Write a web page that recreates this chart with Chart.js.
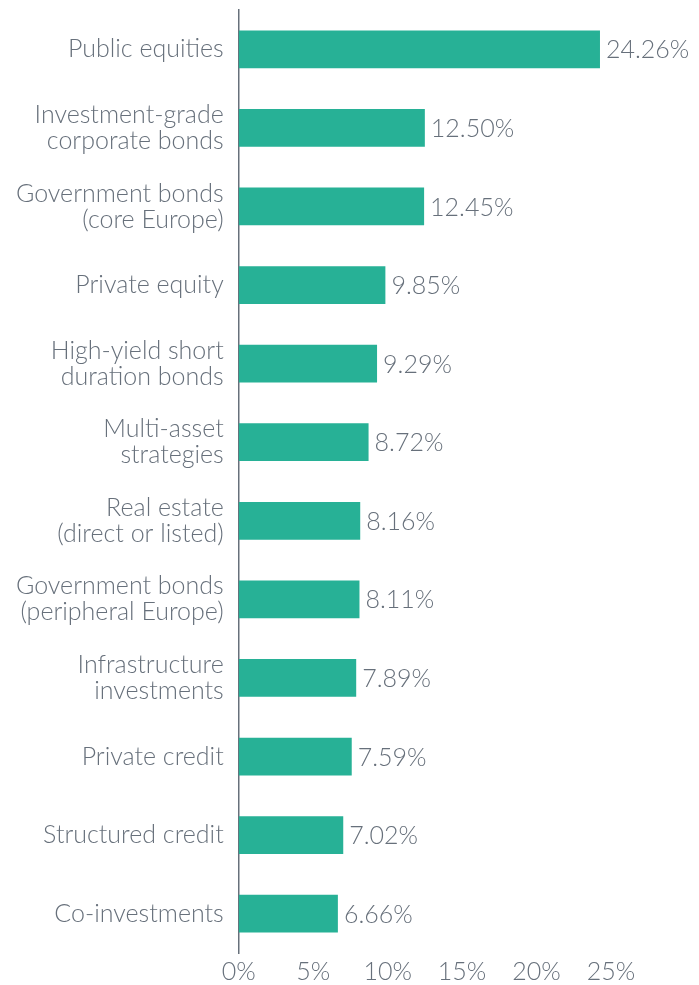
<!DOCTYPE html>
<html>
<head>
<meta charset="utf-8">
<script src="https://cdn.jsdelivr.net/npm/chart.js@4"></script>
<style>
  body { margin: 0; background: #fff; }
  #wrap { width: 699px; height: 985px; }
</style>
</head>
<body>
<div id="wrap"><canvas id="chart" width="699" height="985"></canvas></div>
<script>
const categories = [
  'Public equities',
  ['Investment-grade', 'corporate bonds'],
  ['Government bonds', '(core Europe)'],
  'Private equity',
  ['High-yield short', 'duration bonds'],
  ['Multi-asset', 'strategies'],
  ['Real estate', '(direct or listed)'],
  ['Government bonds', '(peripheral Europe)'],
  ['Infrastructure', 'investments'],
  'Private credit',
  'Structured credit',
  'Co-investments'
];
const shares = [24.26, 12.50, 12.45, 9.85, 9.29, 8.72, 8.16, 8.11, 7.89, 7.59, 7.02, 6.66];
const xTicks = [0, 5, 10, 15, 20, 25];

const textColor = '#67707b';
const barColor = '#27b196';
const fontFamily = 'Lato, "Open Sans", sans-serif';

// draws the value text just right of each bar
const valueLabels = {
  id: 'valueLabels',
  afterDatasetsDraw(chart) {
    const ctx = chart.ctx;
    const meta = chart.getDatasetMeta(0);
    ctx.save();
    ctx.font = '300 25px ' + fontFamily;
    ctx.fillStyle = textColor;
    ctx.textAlign = 'left';
    ctx.textBaseline = 'middle';
    meta.data.forEach((bar, i) => {
      ctx.fillText(shares[i].toFixed(2) + '%', bar.x + 6, bar.y + 1);
    });
    ctx.restore();
  }
};

new Chart(document.getElementById('chart'), {
  type: 'bar',
  data: {
    labels: categories,
    datasets: [{
      data: shares,
      backgroundColor: barColor,
      barPercentage: 0.6,
      categoryPercentage: 0.8
    }]
  },
  plugins: [valueLabels],
  options: {
    indexAxis: 'y',
    responsive: false,
    animation: false,
    layout: { padding: { left: 1, right: 88, top: 10, bottom: 0 } },
    plugins: {
      legend: { display: false },
      tooltip: { enabled: false }
    },
    scales: {
      x: {
        min: 0,
        max: 25,
        grid: { display: false, drawTicks: false },
        border: { display: false },
        afterBuildTicks(scale) {
          scale.ticks = xTicks.map(v => ({ value: v }));
        },
        afterFit(scale) {
          scale.height = 32;
        },
        ticks: {
          color: textColor,
          padding: 4,
          font: { family: fontFamily, size: 25, weight: 300 },
          callback: v => v + '%'
        }
      },
      y: {
        grid: { display: false, drawTicks: false },
        border: { display: true, color: textColor, width: 1.5 },
        afterFit(scale) {
          scale.paddingTop = 0;
          scale.paddingBottom = 0;
        },
        ticks: {
          color: textColor,
          padding: 15,
          font: { family: fontFamily, size: 25, weight: 300, lineHeight: 1.04 }
        }
      }
    }
  }
});
</script>
</body>
</html>
